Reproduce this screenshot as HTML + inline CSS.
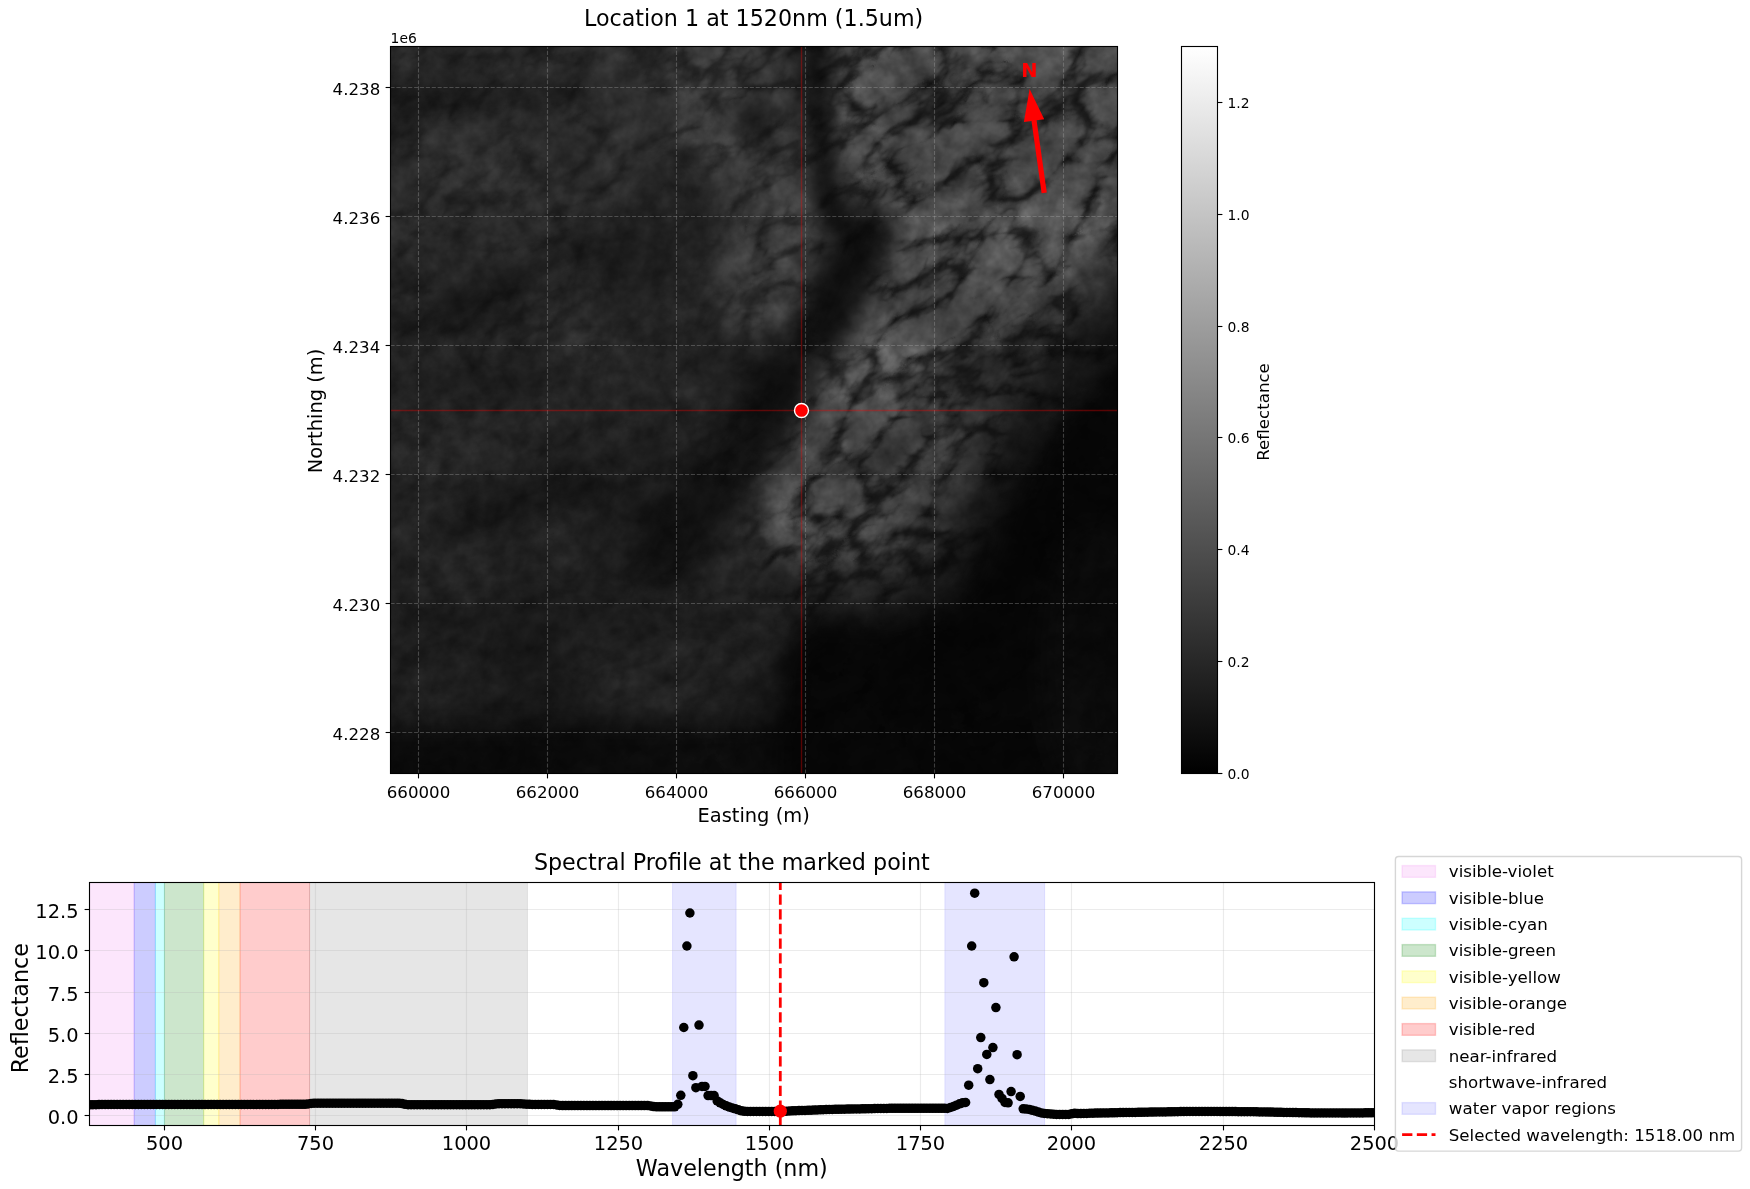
<!DOCTYPE html>
<html><head><meta charset="utf-8"><title>Location 1 at 1520nm</title>
<style>
html,body{margin:0;padding:0;background:#fff;}
body{width:1750px;height:1189px;overflow:hidden;}
svg{display:block;}
text{font-family:'DejaVu Sans','Liberation Sans',sans-serif;fill:#000;}
.t10{font-size:13.89px} .t12{font-size:16.67px} .t14{font-size:19.44px} .t16{font-size:22.22px}
.sp{fill:none;stroke:#000;stroke-width:1.11}
.tk{stroke:#000;stroke-width:1.11}
</style></head><body>
<svg width="1750" height="1189" viewBox="0 0 1750 1189" style="will-change:transform">
<rect width="1750" height="1189" fill="#fff"/>

<defs>
<clipPath id="iclip"><rect x="390.5" y="46.5" width="727.0" height="727.0"/></clipPath>
<filter id="cl" x="234" y="-110" width="1040" height="1040" filterUnits="userSpaceOnUse" color-interpolation-filters="sRGB">
<feGaussianBlur in="SourceGraphic" stdDeviation="12" result="src"/>
<feColorMatrix in="src" type="matrix" values="1 0 0 0 0  1 0 0 0 0  1 0 0 0 0  0 0 0 0 1" result="base"/>
<feColorMatrix in="src" type="matrix" values="0 1 0 0 0  0 1 0 0 0  0 1 0 0 0  0 0 0 0 1" result="mask"/>
<feTurbulence type="turbulence" baseFrequency="0.013 0.022" numOctaves="4" seed="7" result="t"/>
<feColorMatrix in="t" type="matrix" values="1 0 0 0 0  1 0 0 0 0  1 0 0 0 0  0 0 0 0 1" result="tg"/>
<feComponentTransfer in="tg" result="invt"><feFuncR type="table" tableValues="0.72 0.62 0.36 0.11 0.02 0 0 0 0 0 0"/><feFuncG type="table" tableValues="0.72 0.62 0.36 0.11 0.02 0 0 0 0 0 0"/><feFuncB type="table" tableValues="0.72 0.62 0.36 0.11 0.02 0 0 0 0 0 0"/></feComponentTransfer>
<feComposite in="mask" in2="invt" operator="arithmetic" k1="1" k2="0" k3="0" k4="0" result="d"/>
<feColorMatrix in="d" type="matrix" values="-1 0 0 0 1  -1 0 0 0 1  -1 0 0 0 1  0 0 0 0 1" result="nd"/>
<feComposite in="base" in2="nd" operator="arithmetic" k1="1" k2="0" k3="0" k4="0" result="o1"/>
<feTurbulence type="fractalNoise" baseFrequency="0.06" numOctaves="3" seed="11" result="f"/>
<feColorMatrix in="f" type="matrix" values="0.32 0 0 0 0.34  0.32 0 0 0 0.34  0.32 0 0 0 0.34  0 0 0 0 1" result="ff"/>
<feComposite in="o1" in2="ff" operator="arithmetic" k1="2" k2="0" k3="0" k4="0" result="o2"/>
<feTurbulence type="fractalNoise" baseFrequency="0.008" numOctaves="3" seed="23" result="g"/>
<feColorMatrix in="g" type="matrix" values="0.36 0 0 0 0.32  0.36 0 0 0 0.32  0.36 0 0 0 0.32  0 0 0 0 1" result="gg"/>
<feComposite in="o2" in2="gg" operator="arithmetic" k1="2" k2="0" k3="0" k4="0"/>
</filter></defs>
<g clip-path="url(#iclip)"><g transform="rotate(-32 754.0 410.0)"><g filter="url(#cl)"><g transform="rotate(32 754.0 410.0)">
<rect x="190.5" y="-153.5" width="1127.0" height="1127.0" fill="rgb(33,70,0)"/>
<polygon points="224,-116 728,-116 716,227 679,364 224,388" fill="rgb(43,110,0)"/>
<polygon points="224,376 679,351 704,600 224,619" fill="rgb(33,50,0)"/>
<polygon points="224,600 791,588 791,949 224,949" fill="rgb(29,40,0)"/>
<polygon points="224,728 816,721 816,949 224,949" fill="rgb(11,30,0)"/>
<ellipse cx="672" cy="675" rx="93" ry="34" transform="rotate(-8 672 675)" fill="rgb(38,60,0)" fill-opacity="1.0"/>
<polygon points="663,-116 840,-116 822,196 816,289 784,332 735,345 707,264 682,133" fill="rgb(64,170,0)"/>
<polygon points="1289,227 1152,320 1096,376 1040,444 1009,500 984,563 952,606 878,625 803,619 778,662 778,949 1289,949" fill="rgb(6,40,0)"/>
<ellipse cx="1096" cy="662" rx="56" ry="137" transform="rotate(0 1096 662)" fill="rgb(11,40,0)" fill-opacity="1.0"/>
<polygon points="834,-116 1289,-116 1289,276 1152,320 1096,376 1040,444 1009,500 984,563 952,606 878,625 803,619 760,588 747,538 772,463 809,413 816,364 816,227 840,164" fill="rgb(22,200,0)"/>
<polygon points="834,-116 1289,-116 1289,196 1127,276 1065,339 1009,407 977,469 956,532 928,575 865,594 809,588 769,563 753,532 763,488 784,444 809,407 816,364 816,227 840,164" fill="rgb(52,230,0)"/>
<polygon points="834,-116 1289,-116 1289,102 1108,227 1040,301 977,376 946,438 928,500 903,544 859,563 816,560 784,544 767,519 773,482 791,444 806,407 819,376 823,227 831,164 825,102" fill="rgb(82,255,0)"/>
<polygon points="840,-116 1289,-116 1289,77 1096,196 940,196 878,133" fill="rgb(76,255,0)"/>
<path d="M826 318 L800 358" fill="none" stroke="rgb(24,140,0)" stroke-width="34" stroke-linecap="round" stroke-linejoin="round" stroke-opacity="1.0"/>
<path d="M785 385 L742 440 L706 495 L682 540" fill="none" stroke="rgb(17,90,0)" stroke-width="58" stroke-linecap="round" stroke-linejoin="round" stroke-opacity="1.0"/>
<path d="M866 236 L836 296 L822 328" fill="none" stroke="rgb(15,130,0)" stroke-width="58" stroke-linecap="round" stroke-linejoin="round" stroke-opacity="1.0"/>
<path d="M690 520 L665 560" fill="none" stroke="rgb(19,60,0)" stroke-width="70" stroke-linecap="round" stroke-linejoin="round" stroke-opacity="1.0"/>
<path d="M814 40 L818 110 L824 170 L836 222" fill="none" stroke="rgb(11,150,0)" stroke-width="30" stroke-linecap="round" stroke-linejoin="round" stroke-opacity="1.0"/>
<ellipse cx="756" cy="120" rx="24" ry="16" transform="rotate(-30 756 120)" fill="rgb(24,150,0)" fill-opacity="1.0"/>
<ellipse cx="977" cy="364" rx="93" ry="9" transform="rotate(-22 977 364)" fill="rgb(30,200,0)" fill-opacity="1.0"/>
<ellipse cx="909" cy="438" rx="56" ry="9" transform="rotate(-35 909 438)" fill="rgb(32,200,0)" fill-opacity="1.0"/>
<ellipse cx="470" cy="56" rx="105" ry="16" transform="rotate(-3 470 56)" fill="rgb(48,120,0)" fill-opacity="1.0"/>
<path d="M385 101 L480 100 L580 92" fill="none" stroke="rgb(25,100,0)" stroke-width="26" stroke-linecap="round" stroke-linejoin="round" stroke-opacity="1.0"/>
<path d="M405 339 L500 290 L585 245" fill="none" stroke="rgb(27,100,0)" stroke-width="34" stroke-linecap="round" stroke-linejoin="round" stroke-opacity="1.0"/>
<ellipse cx="480" cy="432" rx="115" ry="36" transform="rotate(-10 480 432)" fill="rgb(40,80,0)" fill-opacity="1.0"/>
<path d="M450 526 L520 508 L592 484" fill="none" stroke="rgb(22,60,0)" stroke-width="32" stroke-linecap="round" stroke-linejoin="round" stroke-opacity="1.0"/>
<ellipse cx="660" cy="260" rx="60" ry="120" transform="rotate(10 660 260)" fill="rgb(33,50,0)" fill-opacity="1.0"/>
</g></g></g></g>
<g stroke="#b0b0b0" stroke-opacity="0.32" stroke-width="1.11" stroke-dasharray="4.11 1.78" fill="none">
<path d="M418.5 773.5 V46.5"/>
<path d="M547.5 773.5 V46.5"/>
<path d="M676.5 773.5 V46.5"/>
<path d="M805.5 773.5 V46.5"/>
<path d="M934.5 773.5 V46.5"/>
<path d="M1063.5 773.5 V46.5"/>
<path d="M390.5 87.5 H1117.5"/>
<path d="M390.5 216.5 H1117.5"/>
<path d="M390.5 345.5 H1117.5"/>
<path d="M390.5 474.5 H1117.5"/>
<path d="M390.5 603.5 H1117.5"/>
<path d="M390.5 732.5 H1117.5"/>
</g>
<g stroke="#ff0000" stroke-opacity="0.33" stroke-width="1.4"><path d="M801.5 46.5 V773.5"/><path d="M390.5 410.5 H1117.5"/></g>
<circle cx="801.5" cy="410.5" r="7" fill="#ff0000" stroke="#fff" stroke-width="1.4"/>
<polygon points="1046.8,192.4 1036.6,120.3 1044.2,119.3 1029.6,89.0 1023.9,122.1 1031.5,121.1 1041.6,193.2" fill="#ff0000"/>
<text x="1029.4" y="77" text-anchor="middle" class="t14" style="font-weight:bold;fill:#ff0000">N</text>
<rect class="sp" x="390.5" y="46.5" width="727.0" height="727.0"/>
<path class="tk" d="M418.5 773.5 v4.9"/>
<text x="418.5" y="797.8" text-anchor="middle" class="t12">660000</text>
<path class="tk" d="M547.5 773.5 v4.9"/>
<text x="547.5" y="797.8" text-anchor="middle" class="t12">662000</text>
<path class="tk" d="M676.5 773.5 v4.9"/>
<text x="676.5" y="797.8" text-anchor="middle" class="t12">664000</text>
<path class="tk" d="M805.5 773.5 v4.9"/>
<text x="805.5" y="797.8" text-anchor="middle" class="t12">666000</text>
<path class="tk" d="M934.5 773.5 v4.9"/>
<text x="934.5" y="797.8" text-anchor="middle" class="t12">668000</text>
<path class="tk" d="M1063.5 773.5 v4.9"/>
<text x="1063.5" y="797.8" text-anchor="middle" class="t12">670000</text>
<path class="tk" d="M390.5 87.5 h-4.9"/>
<text x="380.3" y="95.1" text-anchor="end" class="t12">4.238</text>
<path class="tk" d="M390.5 216.5 h-4.9"/>
<text x="380.3" y="224.1" text-anchor="end" class="t12">4.236</text>
<path class="tk" d="M390.5 345.5 h-4.9"/>
<text x="380.3" y="353.1" text-anchor="end" class="t12">4.234</text>
<path class="tk" d="M390.5 474.5 h-4.9"/>
<text x="380.3" y="482.1" text-anchor="end" class="t12">4.232</text>
<path class="tk" d="M390.5 603.5 h-4.9"/>
<text x="380.3" y="611.1" text-anchor="end" class="t12">4.230</text>
<path class="tk" d="M390.5 732.5 h-4.9"/>
<text x="380.3" y="740.1" text-anchor="end" class="t12">4.228</text>
<text x="390.6" y="43.2" class="t10">1e6</text>
<text x="753.6" y="25.8" text-anchor="middle" class="t16">Location 1 at 1520nm (1.5um)</text>
<text x="753.6" y="822.2" text-anchor="middle" class="t14">Easting (m)</text>
<text transform="translate(321.8 411.0) rotate(-90)" text-anchor="middle" class="t14">Northing (m)</text>
<defs><linearGradient id="cbg" x1="0" y1="1" x2="0" y2="0"><stop offset="0" stop-color="#000"/><stop offset="1" stop-color="#fff"/></linearGradient></defs>
<rect x="1181.5" y="46.5" width="36.0" height="727.0" fill="url(#cbg)"/>
<rect class="sp" x="1181.5" y="46.5" width="36.0" height="727.0"/>
<path class="tk" d="M1217.5 773.5 h4.9"/>
<text x="1227.4" y="778.8" class="t10">0.0</text>
<path class="tk" d="M1217.5 661.5 h4.9"/>
<text x="1227.4" y="666.8" class="t10">0.2</text>
<path class="tk" d="M1217.5 549.5 h4.9"/>
<text x="1227.4" y="554.8" class="t10">0.4</text>
<path class="tk" d="M1217.5 437.5 h4.9"/>
<text x="1227.4" y="442.8" class="t10">0.6</text>
<path class="tk" d="M1217.5 326.5 h4.9"/>
<text x="1227.4" y="331.8" class="t10">0.8</text>
<path class="tk" d="M1217.5 214.5 h4.9"/>
<text x="1227.4" y="219.8" class="t10">1.0</text>
<path class="tk" d="M1217.5 102.5 h4.9"/>
<text x="1227.4" y="107.8" class="t10">1.2</text>
<text transform="translate(1268.6 412) rotate(-90)" text-anchor="middle" class="t12">Reflectance</text>
<clipPath id="bclip"><rect x="89.5" y="882.5" width="1285.0" height="243.0"/></clipPath>
<g clip-path="url(#bclip)">
<rect x="85.75" y="880.5" width="48.40" height="247.0" fill="#ee82ee" fill-opacity="0.2" stroke="#ee82ee" stroke-opacity="0.2" stroke-width="0.9"/>
<rect x="134.15" y="880.5" width="21.18" height="247.0" fill="#0000ff" fill-opacity="0.2" stroke="#0000ff" stroke-opacity="0.2" stroke-width="0.9"/>
<rect x="155.33" y="880.5" width="9.07" height="247.0" fill="#00ffff" fill-opacity="0.2" stroke="#00ffff" stroke-opacity="0.2" stroke-width="0.9"/>
<rect x="164.40" y="880.5" width="39.32" height="247.0" fill="#008000" fill-opacity="0.2" stroke="#008000" stroke-opacity="0.2" stroke-width="0.9"/>
<rect x="203.72" y="880.5" width="15.12" height="247.0" fill="#ffff00" fill-opacity="0.2" stroke="#ffff00" stroke-opacity="0.2" stroke-width="0.9"/>
<rect x="218.85" y="880.5" width="21.18" height="247.0" fill="#ffa500" fill-opacity="0.2" stroke="#ffa500" stroke-opacity="0.2" stroke-width="0.9"/>
<rect x="240.03" y="880.5" width="69.58" height="247.0" fill="#ff0000" fill-opacity="0.2" stroke="#ff0000" stroke-opacity="0.2" stroke-width="0.9"/>
<rect x="309.60" y="880.5" width="217.80" height="247.0" fill="#808080" fill-opacity="0.2" stroke="#808080" stroke-opacity="0.2" stroke-width="0.9"/>
<rect x="672.60" y="880.5" width="63.52" height="247.0" fill="#0000ff" fill-opacity="0.1" stroke="#0000ff" stroke-opacity="0.1" stroke-width="0.9"/>
<rect x="944.85" y="880.5" width="99.83" height="247.0" fill="#0000ff" fill-opacity="0.1" stroke="#0000ff" stroke-opacity="0.1" stroke-width="0.9"/>
<g stroke="#b0b0b0" stroke-opacity="0.26" stroke-width="1.11">
<path d="M164.5 882.5 V1125.5"/>
<path d="M315.5 882.5 V1125.5"/>
<path d="M466.5 882.5 V1125.5"/>
<path d="M618.5 882.5 V1125.5"/>
<path d="M769.5 882.5 V1125.5"/>
<path d="M920.5 882.5 V1125.5"/>
<path d="M1071.5 882.5 V1125.5"/>
<path d="M1223.5 882.5 V1125.5"/>
<path d="M1374.5 882.5 V1125.5"/>
<path d="M89.5 1115.5 H1374.5"/>
<path d="M89.5 1074.5 H1374.5"/>
<path d="M89.5 1033.5 H1374.5"/>
<path d="M89.5 992.5 H1374.5"/>
<path d="M89.5 950.5 H1374.5"/>
<path d="M89.5 909.5 H1374.5"/>
</g>
<g fill="#000">
<circle cx="89.9" cy="1104.8" r="4.75"/>
<circle cx="92.9" cy="1104.7" r="4.75"/>
<circle cx="96.0" cy="1104.7" r="4.75"/>
<circle cx="99.0" cy="1104.6" r="4.75"/>
<circle cx="102.0" cy="1104.5" r="4.75"/>
<circle cx="105.1" cy="1104.5" r="4.75"/>
<circle cx="108.1" cy="1104.5" r="4.75"/>
<circle cx="111.1" cy="1104.5" r="4.75"/>
<circle cx="114.1" cy="1104.5" r="4.75"/>
<circle cx="117.2" cy="1104.5" r="4.75"/>
<circle cx="120.2" cy="1104.5" r="4.75"/>
<circle cx="123.2" cy="1104.5" r="4.75"/>
<circle cx="126.3" cy="1104.5" r="4.75"/>
<circle cx="129.3" cy="1104.5" r="4.75"/>
<circle cx="132.3" cy="1104.5" r="4.75"/>
<circle cx="135.4" cy="1104.5" r="4.75"/>
<circle cx="138.4" cy="1104.5" r="4.75"/>
<circle cx="141.4" cy="1104.5" r="4.75"/>
<circle cx="144.4" cy="1104.5" r="4.75"/>
<circle cx="147.5" cy="1104.5" r="4.75"/>
<circle cx="150.5" cy="1104.5" r="4.75"/>
<circle cx="153.5" cy="1104.5" r="4.75"/>
<circle cx="156.6" cy="1104.5" r="4.75"/>
<circle cx="159.6" cy="1104.4" r="4.75"/>
<circle cx="162.6" cy="1104.4" r="4.75"/>
<circle cx="165.7" cy="1104.4" r="4.75"/>
<circle cx="168.7" cy="1104.4" r="4.75"/>
<circle cx="171.7" cy="1104.4" r="4.75"/>
<circle cx="174.7" cy="1104.4" r="4.75"/>
<circle cx="177.8" cy="1104.4" r="4.75"/>
<circle cx="180.8" cy="1104.4" r="4.75"/>
<circle cx="183.8" cy="1104.4" r="4.75"/>
<circle cx="186.9" cy="1104.4" r="4.75"/>
<circle cx="189.9" cy="1104.4" r="4.75"/>
<circle cx="192.9" cy="1104.4" r="4.75"/>
<circle cx="196.0" cy="1104.4" r="4.75"/>
<circle cx="199.0" cy="1104.4" r="4.75"/>
<circle cx="202.0" cy="1104.4" r="4.75"/>
<circle cx="205.0" cy="1104.4" r="4.75"/>
<circle cx="208.1" cy="1104.4" r="4.75"/>
<circle cx="211.1" cy="1104.4" r="4.75"/>
<circle cx="214.1" cy="1104.4" r="4.75"/>
<circle cx="217.2" cy="1104.4" r="4.75"/>
<circle cx="220.2" cy="1104.4" r="4.75"/>
<circle cx="223.2" cy="1104.4" r="4.75"/>
<circle cx="226.3" cy="1104.4" r="4.75"/>
<circle cx="229.3" cy="1104.4" r="4.75"/>
<circle cx="232.3" cy="1104.4" r="4.75"/>
<circle cx="235.4" cy="1104.4" r="4.75"/>
<circle cx="238.4" cy="1104.4" r="4.75"/>
<circle cx="241.4" cy="1104.4" r="4.75"/>
<circle cx="244.4" cy="1104.4" r="4.75"/>
<circle cx="247.5" cy="1104.4" r="4.75"/>
<circle cx="250.5" cy="1104.4" r="4.75"/>
<circle cx="253.5" cy="1104.4" r="4.75"/>
<circle cx="256.6" cy="1104.4" r="4.75"/>
<circle cx="259.6" cy="1104.4" r="4.75"/>
<circle cx="262.6" cy="1104.4" r="4.75"/>
<circle cx="265.7" cy="1104.4" r="4.75"/>
<circle cx="268.7" cy="1104.4" r="4.75"/>
<circle cx="271.7" cy="1104.4" r="4.75"/>
<circle cx="274.7" cy="1104.4" r="4.75"/>
<circle cx="277.8" cy="1104.4" r="4.75"/>
<circle cx="280.8" cy="1104.3" r="4.75"/>
<circle cx="283.8" cy="1104.3" r="4.75"/>
<circle cx="286.9" cy="1104.3" r="4.75"/>
<circle cx="289.9" cy="1104.3" r="4.75"/>
<circle cx="292.9" cy="1104.3" r="4.75"/>
<circle cx="296.0" cy="1104.3" r="4.75"/>
<circle cx="299.0" cy="1104.3" r="4.75"/>
<circle cx="302.0" cy="1104.3" r="4.75"/>
<circle cx="305.0" cy="1104.3" r="4.75"/>
<circle cx="308.1" cy="1104.0" r="4.75"/>
<circle cx="311.1" cy="1103.5" r="4.75"/>
<circle cx="314.1" cy="1103.2" r="4.75"/>
<circle cx="317.2" cy="1103.2" r="4.75"/>
<circle cx="320.2" cy="1103.2" r="4.75"/>
<circle cx="323.2" cy="1103.2" r="4.75"/>
<circle cx="326.3" cy="1103.2" r="4.75"/>
<circle cx="329.3" cy="1103.2" r="4.75"/>
<circle cx="332.3" cy="1103.2" r="4.75"/>
<circle cx="335.3" cy="1103.2" r="4.75"/>
<circle cx="338.4" cy="1103.2" r="4.75"/>
<circle cx="341.4" cy="1103.2" r="4.75"/>
<circle cx="344.4" cy="1103.2" r="4.75"/>
<circle cx="347.5" cy="1103.2" r="4.75"/>
<circle cx="350.5" cy="1103.2" r="4.75"/>
<circle cx="353.5" cy="1103.2" r="4.75"/>
<circle cx="356.6" cy="1103.2" r="4.75"/>
<circle cx="359.6" cy="1103.2" r="4.75"/>
<circle cx="362.6" cy="1103.2" r="4.75"/>
<circle cx="365.6" cy="1103.2" r="4.75"/>
<circle cx="368.7" cy="1103.2" r="4.75"/>
<circle cx="371.7" cy="1103.2" r="4.75"/>
<circle cx="374.7" cy="1103.2" r="4.75"/>
<circle cx="377.8" cy="1103.2" r="4.75"/>
<circle cx="380.8" cy="1103.2" r="4.75"/>
<circle cx="383.8" cy="1103.2" r="4.75"/>
<circle cx="386.9" cy="1103.2" r="4.75"/>
<circle cx="389.9" cy="1103.2" r="4.75"/>
<circle cx="392.9" cy="1103.2" r="4.75"/>
<circle cx="396.0" cy="1103.2" r="4.75"/>
<circle cx="399.0" cy="1103.2" r="4.75"/>
<circle cx="402.0" cy="1103.6" r="4.75"/>
<circle cx="405.0" cy="1104.3" r="4.75"/>
<circle cx="408.1" cy="1104.7" r="4.75"/>
<circle cx="411.1" cy="1104.7" r="4.75"/>
<circle cx="414.1" cy="1104.7" r="4.75"/>
<circle cx="417.2" cy="1104.7" r="4.75"/>
<circle cx="420.2" cy="1104.7" r="4.75"/>
<circle cx="423.2" cy="1104.7" r="4.75"/>
<circle cx="426.3" cy="1104.7" r="4.75"/>
<circle cx="429.3" cy="1104.7" r="4.75"/>
<circle cx="432.3" cy="1104.7" r="4.75"/>
<circle cx="435.3" cy="1104.7" r="4.75"/>
<circle cx="438.4" cy="1104.7" r="4.75"/>
<circle cx="441.4" cy="1104.7" r="4.75"/>
<circle cx="444.4" cy="1104.7" r="4.75"/>
<circle cx="447.5" cy="1104.7" r="4.75"/>
<circle cx="450.5" cy="1104.7" r="4.75"/>
<circle cx="453.5" cy="1104.7" r="4.75"/>
<circle cx="456.6" cy="1104.7" r="4.75"/>
<circle cx="459.6" cy="1104.7" r="4.75"/>
<circle cx="462.6" cy="1104.7" r="4.75"/>
<circle cx="465.6" cy="1104.7" r="4.75"/>
<circle cx="468.7" cy="1104.7" r="4.75"/>
<circle cx="471.7" cy="1104.7" r="4.75"/>
<circle cx="474.7" cy="1104.7" r="4.75"/>
<circle cx="477.8" cy="1104.7" r="4.75"/>
<circle cx="480.8" cy="1104.7" r="4.75"/>
<circle cx="483.8" cy="1104.7" r="4.75"/>
<circle cx="486.9" cy="1104.7" r="4.75"/>
<circle cx="489.9" cy="1104.7" r="4.75"/>
<circle cx="492.9" cy="1104.4" r="4.75"/>
<circle cx="495.9" cy="1103.9" r="4.75"/>
<circle cx="499.0" cy="1103.7" r="4.75"/>
<circle cx="502.0" cy="1103.7" r="4.75"/>
<circle cx="505.0" cy="1103.7" r="4.75"/>
<circle cx="508.1" cy="1103.7" r="4.75"/>
<circle cx="511.1" cy="1103.7" r="4.75"/>
<circle cx="514.1" cy="1103.7" r="4.75"/>
<circle cx="517.2" cy="1103.7" r="4.75"/>
<circle cx="520.2" cy="1103.7" r="4.75"/>
<circle cx="523.2" cy="1103.9" r="4.75"/>
<circle cx="526.2" cy="1104.2" r="4.75"/>
<circle cx="529.3" cy="1104.3" r="4.75"/>
<circle cx="532.3" cy="1104.4" r="4.75"/>
<circle cx="535.3" cy="1104.4" r="4.75"/>
<circle cx="538.4" cy="1104.4" r="4.75"/>
<circle cx="541.4" cy="1104.4" r="4.75"/>
<circle cx="544.4" cy="1104.4" r="4.75"/>
<circle cx="547.5" cy="1104.5" r="4.75"/>
<circle cx="550.5" cy="1104.5" r="4.75"/>
<circle cx="553.5" cy="1104.5" r="4.75"/>
<circle cx="556.6" cy="1104.9" r="4.75"/>
<circle cx="559.6" cy="1105.4" r="4.75"/>
<circle cx="562.6" cy="1105.6" r="4.75"/>
<circle cx="565.6" cy="1105.6" r="4.75"/>
<circle cx="568.7" cy="1105.6" r="4.75"/>
<circle cx="571.7" cy="1105.6" r="4.75"/>
<circle cx="574.7" cy="1105.6" r="4.75"/>
<circle cx="577.8" cy="1105.6" r="4.75"/>
<circle cx="580.8" cy="1105.6" r="4.75"/>
<circle cx="583.8" cy="1105.6" r="4.75"/>
<circle cx="586.9" cy="1105.6" r="4.75"/>
<circle cx="589.9" cy="1105.6" r="4.75"/>
<circle cx="592.9" cy="1105.6" r="4.75"/>
<circle cx="595.9" cy="1105.6" r="4.75"/>
<circle cx="599.0" cy="1105.6" r="4.75"/>
<circle cx="602.0" cy="1105.6" r="4.75"/>
<circle cx="605.0" cy="1105.6" r="4.75"/>
<circle cx="608.1" cy="1105.6" r="4.75"/>
<circle cx="611.1" cy="1105.6" r="4.75"/>
<circle cx="614.1" cy="1105.6" r="4.75"/>
<circle cx="617.2" cy="1105.6" r="4.75"/>
<circle cx="620.2" cy="1105.6" r="4.75"/>
<circle cx="623.2" cy="1105.6" r="4.75"/>
<circle cx="626.2" cy="1105.6" r="4.75"/>
<circle cx="629.3" cy="1105.6" r="4.75"/>
<circle cx="632.3" cy="1105.6" r="4.75"/>
<circle cx="635.3" cy="1105.6" r="4.75"/>
<circle cx="638.4" cy="1105.6" r="4.75"/>
<circle cx="641.4" cy="1105.6" r="4.75"/>
<circle cx="644.4" cy="1105.6" r="4.75"/>
<circle cx="647.5" cy="1105.6" r="4.75"/>
<circle cx="650.5" cy="1106.0" r="4.75"/>
<circle cx="653.5" cy="1106.6" r="4.75"/>
<circle cx="656.5" cy="1106.8" r="4.75"/>
<circle cx="659.6" cy="1106.8" r="4.75"/>
<circle cx="662.6" cy="1106.8" r="4.75"/>
<circle cx="665.6" cy="1106.8" r="4.75"/>
<circle cx="668.7" cy="1106.8" r="4.75"/>
<circle cx="671.7" cy="1106.8" r="4.75"/>
<circle cx="674.7" cy="1106.8" r="4.75"/>
<circle cx="677.8" cy="1104.3" r="4.75"/>
<circle cx="680.8" cy="1095.3" r="4.75"/>
<circle cx="683.8" cy="1027.5" r="4.75"/>
<circle cx="686.9" cy="946.0" r="4.75"/>
<circle cx="689.9" cy="913.0" r="4.75"/>
<circle cx="692.9" cy="1075.7" r="4.75"/>
<circle cx="695.9" cy="1087.7" r="4.75"/>
<circle cx="699.0" cy="1025.1" r="4.75"/>
<circle cx="702.0" cy="1086.4" r="4.75"/>
<circle cx="705.0" cy="1086.4" r="4.75"/>
<circle cx="708.1" cy="1095.6" r="4.75"/>
<circle cx="711.1" cy="1095.6" r="4.75"/>
<circle cx="714.1" cy="1095.6" r="4.75"/>
<circle cx="717.2" cy="1100.9" r="4.75"/>
<circle cx="720.2" cy="1102.8" r="4.75"/>
<circle cx="723.2" cy="1104.5" r="4.75"/>
<circle cx="726.2" cy="1105.8" r="4.75"/>
<circle cx="729.3" cy="1107.1" r="4.75"/>
<circle cx="732.3" cy="1108.0" r="4.75"/>
<circle cx="735.3" cy="1108.8" r="4.75"/>
<circle cx="738.4" cy="1109.8" r="4.75"/>
<circle cx="741.4" cy="1110.8" r="4.75"/>
<circle cx="744.4" cy="1111.3" r="4.75"/>
<circle cx="747.5" cy="1111.4" r="4.75"/>
<circle cx="750.5" cy="1111.4" r="4.75"/>
<circle cx="753.5" cy="1111.5" r="4.75"/>
<circle cx="756.5" cy="1111.5" r="4.75"/>
<circle cx="759.6" cy="1111.5" r="4.75"/>
<circle cx="762.6" cy="1111.5" r="4.75"/>
<circle cx="765.6" cy="1111.5" r="4.75"/>
<circle cx="768.7" cy="1111.5" r="4.75"/>
<circle cx="771.7" cy="1111.5" r="4.75"/>
<circle cx="774.7" cy="1111.5" r="4.75"/>
<circle cx="777.8" cy="1111.6" r="4.75"/>
<circle cx="780.8" cy="1111.6" r="4.75"/>
<circle cx="783.8" cy="1111.4" r="4.75"/>
<circle cx="786.8" cy="1111.2" r="4.75"/>
<circle cx="789.9" cy="1111.0" r="4.75"/>
<circle cx="792.9" cy="1110.8" r="4.75"/>
<circle cx="795.9" cy="1110.7" r="4.75"/>
<circle cx="799.0" cy="1110.6" r="4.75"/>
<circle cx="802.0" cy="1110.5" r="4.75"/>
<circle cx="805.0" cy="1110.4" r="4.75"/>
<circle cx="808.1" cy="1110.3" r="4.75"/>
<circle cx="811.1" cy="1110.2" r="4.75"/>
<circle cx="814.1" cy="1110.1" r="4.75"/>
<circle cx="817.1" cy="1110.0" r="4.75"/>
<circle cx="820.2" cy="1109.8" r="4.75"/>
<circle cx="823.2" cy="1109.7" r="4.75"/>
<circle cx="826.2" cy="1109.6" r="4.75"/>
<circle cx="829.3" cy="1109.5" r="4.75"/>
<circle cx="832.3" cy="1109.4" r="4.75"/>
<circle cx="835.3" cy="1109.3" r="4.75"/>
<circle cx="838.4" cy="1109.3" r="4.75"/>
<circle cx="841.4" cy="1109.2" r="4.75"/>
<circle cx="844.4" cy="1109.2" r="4.75"/>
<circle cx="847.5" cy="1109.1" r="4.75"/>
<circle cx="850.5" cy="1109.1" r="4.75"/>
<circle cx="853.5" cy="1109.0" r="4.75"/>
<circle cx="856.5" cy="1109.0" r="4.75"/>
<circle cx="859.6" cy="1108.9" r="4.75"/>
<circle cx="862.6" cy="1108.8" r="4.75"/>
<circle cx="865.6" cy="1108.8" r="4.75"/>
<circle cx="868.7" cy="1108.7" r="4.75"/>
<circle cx="871.7" cy="1108.7" r="4.75"/>
<circle cx="874.7" cy="1108.6" r="4.75"/>
<circle cx="877.8" cy="1108.5" r="4.75"/>
<circle cx="880.8" cy="1108.5" r="4.75"/>
<circle cx="883.8" cy="1108.4" r="4.75"/>
<circle cx="886.8" cy="1108.4" r="4.75"/>
<circle cx="889.9" cy="1108.3" r="4.75"/>
<circle cx="892.9" cy="1108.3" r="4.75"/>
<circle cx="895.9" cy="1108.3" r="4.75"/>
<circle cx="899.0" cy="1108.3" r="4.75"/>
<circle cx="902.0" cy="1108.3" r="4.75"/>
<circle cx="905.0" cy="1108.3" r="4.75"/>
<circle cx="908.1" cy="1108.3" r="4.75"/>
<circle cx="911.1" cy="1108.3" r="4.75"/>
<circle cx="914.1" cy="1108.3" r="4.75"/>
<circle cx="917.1" cy="1108.3" r="4.75"/>
<circle cx="920.2" cy="1108.3" r="4.75"/>
<circle cx="923.2" cy="1108.3" r="4.75"/>
<circle cx="926.2" cy="1108.3" r="4.75"/>
<circle cx="929.3" cy="1108.3" r="4.75"/>
<circle cx="932.3" cy="1108.3" r="4.75"/>
<circle cx="935.3" cy="1108.3" r="4.75"/>
<circle cx="938.4" cy="1108.3" r="4.75"/>
<circle cx="941.4" cy="1108.3" r="4.75"/>
<circle cx="944.4" cy="1108.3" r="4.75"/>
<circle cx="947.4" cy="1108.4" r="4.75"/>
<circle cx="950.5" cy="1107.5" r="4.75"/>
<circle cx="953.5" cy="1106.5" r="4.75"/>
<circle cx="956.5" cy="1105.2" r="4.75"/>
<circle cx="959.6" cy="1103.8" r="4.75"/>
<circle cx="962.6" cy="1102.8" r="4.75"/>
<circle cx="965.6" cy="1102.5" r="4.75"/>
<circle cx="968.7" cy="1085.2" r="4.75"/>
<circle cx="971.7" cy="946.0" r="4.75"/>
<circle cx="974.7" cy="893.2" r="4.75"/>
<circle cx="977.7" cy="1068.7" r="4.75"/>
<circle cx="980.8" cy="1037.6" r="4.75"/>
<circle cx="983.8" cy="982.7" r="4.75"/>
<circle cx="986.8" cy="1054.4" r="4.75"/>
<circle cx="989.9" cy="1079.6" r="4.75"/>
<circle cx="992.9" cy="1047.6" r="4.75"/>
<circle cx="995.9" cy="1007.6" r="4.75"/>
<circle cx="999.0" cy="1094.4" r="4.75"/>
<circle cx="1002.0" cy="1098.4" r="4.75"/>
<circle cx="1005.0" cy="1102.5" r="4.75"/>
<circle cx="1008.1" cy="1102.8" r="4.75"/>
<circle cx="1011.1" cy="1091.6" r="4.75"/>
<circle cx="1014.1" cy="956.8" r="4.75"/>
<circle cx="1017.1" cy="1054.7" r="4.75"/>
<circle cx="1020.2" cy="1096.4" r="4.75"/>
<circle cx="1023.2" cy="1108.8" r="4.75"/>
<circle cx="1026.2" cy="1109.1" r="4.75"/>
<circle cx="1029.3" cy="1109.4" r="4.75"/>
<circle cx="1032.3" cy="1110.3" r="4.75"/>
<circle cx="1035.3" cy="1111.1" r="4.75"/>
<circle cx="1038.4" cy="1112.1" r="4.75"/>
<circle cx="1041.4" cy="1112.9" r="4.75"/>
<circle cx="1044.4" cy="1113.4" r="4.75"/>
<circle cx="1047.4" cy="1113.7" r="4.75"/>
<circle cx="1050.5" cy="1114.0" r="4.75"/>
<circle cx="1053.5" cy="1114.2" r="4.75"/>
<circle cx="1056.5" cy="1114.4" r="4.75"/>
<circle cx="1059.6" cy="1114.4" r="4.75"/>
<circle cx="1062.6" cy="1114.5" r="4.75"/>
<circle cx="1065.6" cy="1114.5" r="4.75"/>
<circle cx="1068.7" cy="1114.5" r="4.75"/>
<circle cx="1071.7" cy="1113.8" r="4.75"/>
<circle cx="1074.7" cy="1113.3" r="4.75"/>
<circle cx="1077.7" cy="1113.6" r="4.75"/>
<circle cx="1080.8" cy="1113.6" r="4.75"/>
<circle cx="1083.8" cy="1113.5" r="4.75"/>
<circle cx="1086.8" cy="1113.4" r="4.75"/>
<circle cx="1089.9" cy="1113.2" r="4.75"/>
<circle cx="1092.9" cy="1113.2" r="4.75"/>
<circle cx="1095.9" cy="1113.1" r="4.75"/>
<circle cx="1099.0" cy="1113.1" r="4.75"/>
<circle cx="1102.0" cy="1113.0" r="4.75"/>
<circle cx="1105.0" cy="1112.9" r="4.75"/>
<circle cx="1108.0" cy="1112.9" r="4.75"/>
<circle cx="1111.1" cy="1112.8" r="4.75"/>
<circle cx="1114.1" cy="1112.8" r="4.75"/>
<circle cx="1117.1" cy="1112.7" r="4.75"/>
<circle cx="1120.2" cy="1112.6" r="4.75"/>
<circle cx="1123.2" cy="1112.6" r="4.75"/>
<circle cx="1126.2" cy="1112.5" r="4.75"/>
<circle cx="1129.3" cy="1112.5" r="4.75"/>
<circle cx="1132.3" cy="1112.4" r="4.75"/>
<circle cx="1135.3" cy="1112.4" r="4.75"/>
<circle cx="1138.4" cy="1112.3" r="4.75"/>
<circle cx="1141.4" cy="1112.3" r="4.75"/>
<circle cx="1144.4" cy="1112.2" r="4.75"/>
<circle cx="1147.4" cy="1112.2" r="4.75"/>
<circle cx="1150.5" cy="1112.1" r="4.75"/>
<circle cx="1153.5" cy="1112.1" r="4.75"/>
<circle cx="1156.5" cy="1112.0" r="4.75"/>
<circle cx="1159.6" cy="1112.0" r="4.75"/>
<circle cx="1162.6" cy="1111.9" r="4.75"/>
<circle cx="1165.6" cy="1111.9" r="4.75"/>
<circle cx="1168.7" cy="1111.8" r="4.75"/>
<circle cx="1171.7" cy="1111.8" r="4.75"/>
<circle cx="1174.7" cy="1111.7" r="4.75"/>
<circle cx="1177.7" cy="1111.7" r="4.75"/>
<circle cx="1180.8" cy="1111.6" r="4.75"/>
<circle cx="1183.8" cy="1111.6" r="4.75"/>
<circle cx="1186.8" cy="1111.5" r="4.75"/>
<circle cx="1189.9" cy="1111.5" r="4.75"/>
<circle cx="1192.9" cy="1111.4" r="4.75"/>
<circle cx="1195.9" cy="1111.4" r="4.75"/>
<circle cx="1199.0" cy="1111.4" r="4.75"/>
<circle cx="1202.0" cy="1111.5" r="4.75"/>
<circle cx="1205.0" cy="1111.5" r="4.75"/>
<circle cx="1208.0" cy="1111.5" r="4.75"/>
<circle cx="1211.1" cy="1111.5" r="4.75"/>
<circle cx="1214.1" cy="1111.5" r="4.75"/>
<circle cx="1217.1" cy="1111.5" r="4.75"/>
<circle cx="1220.2" cy="1111.6" r="4.75"/>
<circle cx="1223.2" cy="1111.6" r="4.75"/>
<circle cx="1226.2" cy="1111.6" r="4.75"/>
<circle cx="1229.3" cy="1111.6" r="4.75"/>
<circle cx="1232.3" cy="1111.6" r="4.75"/>
<circle cx="1235.3" cy="1111.6" r="4.75"/>
<circle cx="1238.3" cy="1111.7" r="4.75"/>
<circle cx="1241.4" cy="1111.7" r="4.75"/>
<circle cx="1244.4" cy="1111.7" r="4.75"/>
<circle cx="1247.4" cy="1111.7" r="4.75"/>
<circle cx="1250.5" cy="1111.7" r="4.75"/>
<circle cx="1253.5" cy="1111.7" r="4.75"/>
<circle cx="1256.5" cy="1111.8" r="4.75"/>
<circle cx="1259.6" cy="1111.9" r="4.75"/>
<circle cx="1262.6" cy="1111.9" r="4.75"/>
<circle cx="1265.6" cy="1112.0" r="4.75"/>
<circle cx="1268.6" cy="1112.1" r="4.75"/>
<circle cx="1271.7" cy="1112.1" r="4.75"/>
<circle cx="1274.7" cy="1112.2" r="4.75"/>
<circle cx="1277.7" cy="1112.3" r="4.75"/>
<circle cx="1280.8" cy="1112.3" r="4.75"/>
<circle cx="1283.8" cy="1112.4" r="4.75"/>
<circle cx="1286.8" cy="1112.5" r="4.75"/>
<circle cx="1289.9" cy="1112.5" r="4.75"/>
<circle cx="1292.9" cy="1112.6" r="4.75"/>
<circle cx="1295.9" cy="1112.6" r="4.75"/>
<circle cx="1299.0" cy="1112.7" r="4.75"/>
<circle cx="1302.0" cy="1112.7" r="4.75"/>
<circle cx="1305.0" cy="1112.8" r="4.75"/>
<circle cx="1308.0" cy="1112.8" r="4.75"/>
<circle cx="1311.1" cy="1112.9" r="4.75"/>
<circle cx="1314.1" cy="1112.9" r="4.75"/>
<circle cx="1317.1" cy="1112.9" r="4.75"/>
<circle cx="1320.2" cy="1112.9" r="4.75"/>
<circle cx="1323.2" cy="1112.9" r="4.75"/>
<circle cx="1326.2" cy="1113.0" r="4.75"/>
<circle cx="1329.3" cy="1113.0" r="4.75"/>
<circle cx="1332.3" cy="1113.0" r="4.75"/>
<circle cx="1335.3" cy="1113.0" r="4.75"/>
<circle cx="1338.3" cy="1113.0" r="4.75"/>
<circle cx="1341.4" cy="1113.0" r="4.75"/>
<circle cx="1344.4" cy="1113.1" r="4.75"/>
<circle cx="1347.4" cy="1113.0" r="4.75"/>
<circle cx="1350.5" cy="1113.0" r="4.75"/>
<circle cx="1353.5" cy="1113.0" r="4.75"/>
<circle cx="1356.5" cy="1112.9" r="4.75"/>
<circle cx="1359.6" cy="1112.9" r="4.75"/>
<circle cx="1362.6" cy="1112.9" r="4.75"/>
<circle cx="1365.6" cy="1112.8" r="4.75"/>
<circle cx="1368.6" cy="1112.8" r="4.75"/>
<circle cx="1371.7" cy="1112.8" r="4.75"/>
<circle cx="1374.7" cy="1112.7" r="4.75"/>
</g>
<path d="M780.3 1125.5 V882.5" stroke="#ff0000" stroke-width="2.78" stroke-dasharray="10.28 4.44" fill="none"/>
<circle cx="780.3" cy="1111.2" r="6.6" fill="#ff0000"/>
</g>
<rect class="sp" x="89.5" y="882.5" width="1285.0" height="243.0"/>
<path class="tk" d="M164.5 1125.5 v4.9"/>
<text x="164.5" y="1149.7" text-anchor="middle" class="t14">500</text>
<path class="tk" d="M315.5 1125.5 v4.9"/>
<text x="315.5" y="1149.7" text-anchor="middle" class="t14">750</text>
<path class="tk" d="M466.5 1125.5 v4.9"/>
<text x="466.5" y="1149.7" text-anchor="middle" class="t14">1000</text>
<path class="tk" d="M618.5 1125.5 v4.9"/>
<text x="618.5" y="1149.7" text-anchor="middle" class="t14">1250</text>
<path class="tk" d="M769.5 1125.5 v4.9"/>
<text x="769.5" y="1149.7" text-anchor="middle" class="t14">1500</text>
<path class="tk" d="M920.5 1125.5 v4.9"/>
<text x="920.5" y="1149.7" text-anchor="middle" class="t14">1750</text>
<path class="tk" d="M1071.5 1125.5 v4.9"/>
<text x="1071.5" y="1149.7" text-anchor="middle" class="t14">2000</text>
<path class="tk" d="M1223.5 1125.5 v4.9"/>
<text x="1223.5" y="1149.7" text-anchor="middle" class="t14">2250</text>
<path class="tk" d="M1374.5 1125.5 v4.9"/>
<text x="1374.5" y="1149.7" text-anchor="middle" class="t14">2500</text>
<path class="tk" d="M89.5 1115.5 h-4.9"/>
<text x="78.6" y="1124.2" text-anchor="end" class="t14">0.0</text>
<path class="tk" d="M89.5 1074.5 h-4.9"/>
<text x="78.6" y="1083.2" text-anchor="end" class="t14">2.5</text>
<path class="tk" d="M89.5 1033.5 h-4.9"/>
<text x="78.6" y="1042.2" text-anchor="end" class="t14">5.0</text>
<path class="tk" d="M89.5 992.5 h-4.9"/>
<text x="78.6" y="1001.2" text-anchor="end" class="t14">7.5</text>
<path class="tk" d="M89.5 950.5 h-4.9"/>
<text x="78.6" y="959.2" text-anchor="end" class="t14">10.0</text>
<path class="tk" d="M89.5 909.5 h-4.9"/>
<text x="78.6" y="918.2" text-anchor="end" class="t14">12.5</text>
<text x="731.8" y="870" text-anchor="middle" class="t16">Spectral Profile at the marked point</text>
<text x="731.8" y="1176" text-anchor="middle" class="t16">Wavelength (nm)</text>
<text transform="translate(28 1008.2) rotate(-90)" text-anchor="middle" class="t16">Reflectance</text>
<rect x="1395.4" y="856.5" width="346.2" height="294.6" rx="3.3" fill="#fff" fill-opacity="0.8" stroke="#cccccc" stroke-opacity="0.8" stroke-width="1.39"/>
<rect x="1402.1" y="865.6" width="33.4" height="11.7" fill="#ee82ee" fill-opacity="0.2" stroke="#ee82ee" stroke-opacity="0.2" stroke-width="1.39"/>
<text x="1448.8" y="877.3" class="t12">visible-violet</text>
<rect x="1402.1" y="891.9" width="33.4" height="11.7" fill="#0000ff" fill-opacity="0.2" stroke="#0000ff" stroke-opacity="0.2" stroke-width="1.39"/>
<text x="1448.8" y="903.6" class="t12">visible-blue</text>
<rect x="1402.1" y="918.3" width="33.4" height="11.7" fill="#00ffff" fill-opacity="0.2" stroke="#00ffff" stroke-opacity="0.2" stroke-width="1.39"/>
<text x="1448.8" y="930.0" class="t12">visible-cyan</text>
<rect x="1402.1" y="944.6" width="33.4" height="11.7" fill="#008000" fill-opacity="0.2" stroke="#008000" stroke-opacity="0.2" stroke-width="1.39"/>
<text x="1448.8" y="956.3" class="t12">visible-green</text>
<rect x="1402.1" y="970.9" width="33.4" height="11.7" fill="#ffff00" fill-opacity="0.2" stroke="#ffff00" stroke-opacity="0.2" stroke-width="1.39"/>
<text x="1448.8" y="982.6" class="t12">visible-yellow</text>
<rect x="1402.1" y="997.2" width="33.4" height="11.7" fill="#ffa500" fill-opacity="0.2" stroke="#ffa500" stroke-opacity="0.2" stroke-width="1.39"/>
<text x="1448.8" y="1008.9" class="t12">visible-orange</text>
<rect x="1402.1" y="1023.6" width="33.4" height="11.7" fill="#ff0000" fill-opacity="0.2" stroke="#ff0000" stroke-opacity="0.2" stroke-width="1.39"/>
<text x="1448.8" y="1035.3" class="t12">visible-red</text>
<rect x="1402.1" y="1049.9" width="33.4" height="11.7" fill="#808080" fill-opacity="0.2" stroke="#808080" stroke-opacity="0.2" stroke-width="1.39"/>
<text x="1448.8" y="1061.6" class="t12">near-infrared</text>
<rect x="1402.1" y="1076.2" width="33.4" height="11.7" fill="#ffffff" fill-opacity="0.2" stroke="#ffffff" stroke-opacity="0.2" stroke-width="1.39"/>
<text x="1448.8" y="1087.9" class="t12">shortwave-infrared</text>
<rect x="1402.1" y="1102.6" width="33.4" height="11.7" fill="#0000ff" fill-opacity="0.1" stroke="#0000ff" stroke-opacity="0.1" stroke-width="1.39"/>
<text x="1448.8" y="1114.3" class="t12">water vapor regions</text>
<path d="M1402.1 1134.7 h33.4" stroke="#ff0000" stroke-width="2.78" stroke-dasharray="10.28 4.44" fill="none"/>
<text x="1448.8" y="1140.6" class="t12">Selected wavelength: 1518.00 nm</text>
</svg></body></html>
